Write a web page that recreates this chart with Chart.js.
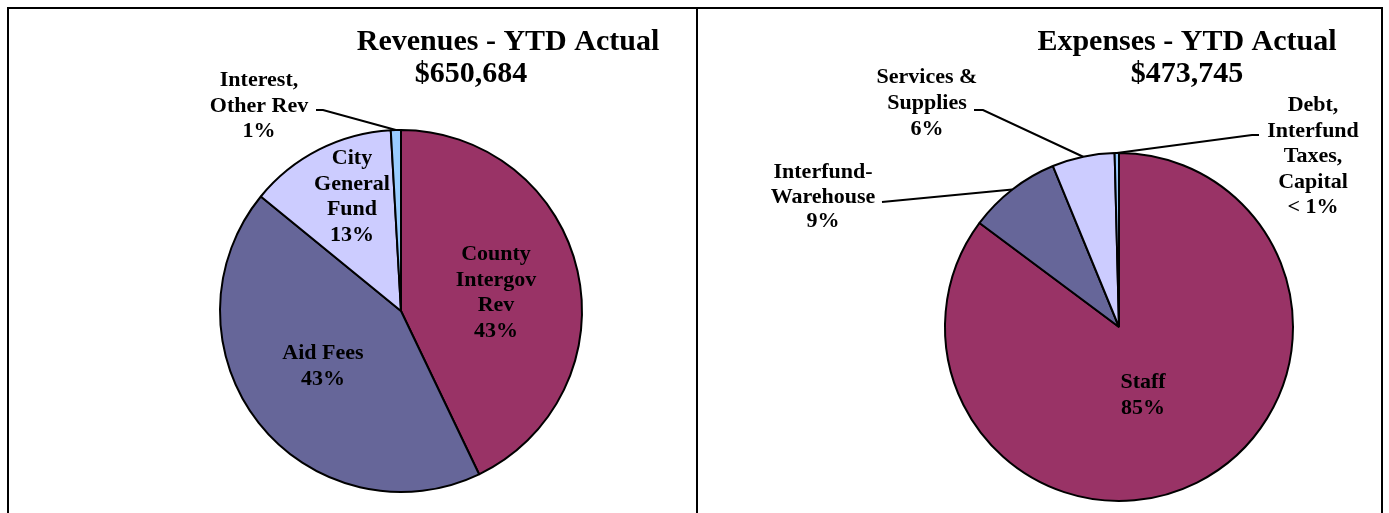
<!DOCTYPE html>
<html>
<head>
<meta charset="utf-8">
<script src="https://cdn.jsdelivr.net/npm/chart.js@4.4.1/dist/chart.umd.min.js"></script>
<style>
  body { margin: 0; background: #fff; width: 1389px; height: 513px; overflow: hidden; }
  #frame { position: absolute; left: 7px; top: 7px; width: 1376px; height: 530px; box-sizing: border-box; border: 2px solid #000; }
  #divider { position: absolute; left: 696px; top: 7px; width: 2px; height: 520px; background: #000; }
  canvas { position: absolute; left: 0; top: 0; }
</style>
</head>
<body>
<div id="frame"></div>
<div id="divider"></div>
<canvas id="revenueChart" width="1389" height="513"></canvas>
<canvas id="expenseChart" width="1389" height="513"></canvas>
<script>
const revenueCategories = [['County', 'Intergov', 'Rev'], ['Aid Fees'], ['City', 'General', 'Fund'], ['Interest,', 'Other Rev']];
const revenueShares = [42.9, 43.0, 13.2, 0.9];
const revenueTitle = ['Revenues - YTD Actual', '$650,684'];

const expenseCategories = [['Staff'], ['Interfund-', 'Warehouse'], ['Services &', 'Supplies'], ['Debt,', 'Interfund', 'Taxes,', 'Capital']];
const expenseShares = [85.2, 8.6, 5.8, 0.4];
const expenseTitle = ['Expenses - YTD Actual', '$473,745'];

const sliceColors = ['#993366', '#666699', '#CCCCFF', '#99CCFF'];

const W = 1389, H = 513;
const labelFont = 'bold 22px "Liberation Serif", "Times New Roman", serif';
const titleFont = 'bold 30px "Liberation Serif", "Times New Roman", serif';

// where things sit on the page (layout only, no data)
const revenueLayout = {
  center: [401, 311], radius: 181,
  title: [[508, 50], [471, 82]],
  labels: [
    { x: 496, y: 260 },
    { x: 323, y: 359 },
    { x: 352, y: 164 },
    { x: 259, y: 86, leader: [316, 110], stub: 7 }
  ]
};
const expenseLayout = {
  center: [1119, 327], radius: 174,
  title: [[1187, 50], [1187, 82]],
  labels: [
    { x: 1143, y: 388 },
    { x: 823, y: 178, step: 24.5, leader: [882, 202], stub: 0 },
    { x: 927, y: 83, step: 26, leader: [974, 110], stub: 9 },
    { x: 1313, y: 111, step: 25.5, leader: [1259, 135], stub: -7 }
  ]
};

function pctText(v) {
  const r = Math.round(v);
  return r < 1 ? '< 1%' : r + '%';
}

const labelPlugin = {
  id: 'pieLabels',
  afterDatasetsDraw(chart, args, opts) {
    const ctx = chart.ctx;
    const layout = opts.layout;
    const cats = opts.categories;
    const shares = chart.data.datasets[0].data;
    const arcs = chart.getDatasetMeta(0).data;
    ctx.save();
    ctx.fillStyle = '#000';
    ctx.textAlign = 'center';
    ctx.textBaseline = 'alphabetic';

    ctx.font = titleFont;
    opts.title.forEach((t, i) => ctx.fillText(t, layout.title[i][0], layout.title[i][1]));

    ctx.font = labelFont;
    layout.labels.forEach((lab, i) => {
      const lines = cats[i].concat([pctText(shares[i])]);
      const step = lab.step || 25.5;
      lines.forEach((ln, j) => ctx.fillText(ln, lab.x, lab.y + j * step));
      if (lab.leader) {
        const a = arcs[i].getProps(['x', 'y', 'startAngle', 'endAngle', 'outerRadius'], true);
        const mid = (a.startAngle + a.endAngle) / 2;
        const px = a.x + Math.cos(mid) * a.outerRadius;
        const py = a.y + Math.sin(mid) * a.outerRadius;
        ctx.beginPath();
        ctx.strokeStyle = '#000';
        ctx.lineWidth = 2;
        ctx.moveTo(lab.leader[0], lab.leader[1]);
        ctx.lineTo(lab.leader[0] + lab.stub, lab.leader[1]);
        ctx.lineTo(px, py);
        ctx.stroke();
      }
    });
    ctx.restore();
  }
};

function makePie(id, categories, shares, title, layout) {
  const [cx, cy] = layout.center;
  const half = Math.min(cx, W - cx);
  const vhalf = Math.min(cy, H - cy);
  return new Chart(document.getElementById(id), {
    type: 'pie',
    data: {
      labels: categories.map(c => c.join(' ')),
      datasets: [{
        data: shares,
        backgroundColor: sliceColors,
        borderColor: '#000000',
        borderWidth: 2,
        hoverOffset: 0,
        radius: layout.radius
      }]
    },
    options: {
      responsive: false,
      animation: false,
      events: [],
      layout: {
        padding: {
          left: cx - half,
          right: W - cx - half,
          top: cy - vhalf,
          bottom: H - cy - vhalf
        }
      },
      plugins: {
        legend: { display: false },
        tooltip: { enabled: false },
        pieLabels: { layout: layout, categories: categories, title: title }
      }
    },
    plugins: [labelPlugin]
  });
}

makePie('revenueChart', revenueCategories, revenueShares, revenueTitle, revenueLayout);
makePie('expenseChart', expenseCategories, expenseShares, expenseTitle, expenseLayout);
</script>
</body>
</html>
